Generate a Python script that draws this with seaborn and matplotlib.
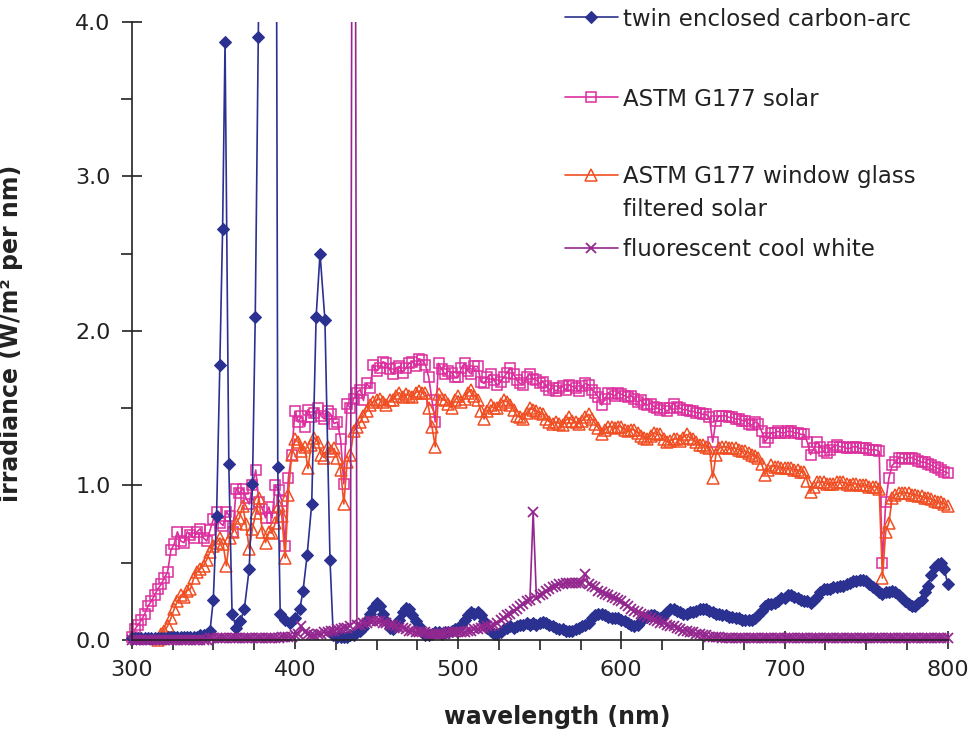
import numpy as np
import pandas as pd
import matplotlib
matplotlib.use("Agg")
import matplotlib.pyplot as plt
import seaborn as sns
from matplotlib.ticker import MultipleLocator, FormatStrFormatter

# ---------------- data ----------------
# twin enclosed carbon-arc: UV part (irregular wavelengths) + visible part every 2 nm
arc_wl_uv = [300, 302, 304, 306, 308, 310, 312, 314, 316, 318, 320, 322, 324, 326, 328, 330,
             332, 334, 336, 338, 340, 342, 344, 346, 348, 350, 352, 354, 355.7, 357.2, 359.5,
             361.5, 364, 366.5, 369, 372, 374, 375.7, 377.5, 379.5, 384, 388.5, 389.5, 391,
             394, 397, 400, 403, 405, 407.5, 410.3, 413, 415.4, 418.4, 421.5, 423.5, 426, 428,
             430, 432, 434, 436, 438]
arc_irr_uv = [0.01, 0.01, 0.01, 0.01, 0.01, 0.01, 0.01, 0.01, 0.01, 0.01, 0.01, 0.02, 0.02, 0.02, 0.02, 0.02,
              0.02, 0.02, 0.02, 0.02, 0.02, 0.03, 0.03, 0.04, 0.06, 0.26, 0.80, 1.78, 2.66, 3.87, 1.14,
              0.17, 0.08, 0.12, 0.20, 0.46, 1.01, 2.09, 3.90, 5.5, 6.0, 5.5, 1.12, 0.17,
              0.13, 0.11, 0.14, 0.20, 0.32, 0.55, 0.88, 2.09, 2.50, 2.07, 0.52, 0.03, 0.02, 0.02,
              0.02, 0.02, 0.03, 0.03, 0.05]
arc_wl_vis = list(range(440, 801, 2))
arc_irr_vis = [0.06, 0.08, 0.13, 0.17, 0.21, 0.24, 0.22, 0.17, 0.12, 0.08,
               0.07, 0.10, 0.13, 0.18, 0.21, 0.20, 0.16, 0.12, 0.09, 0.05,
               0.03, 0.03, 0.04, 0.05, 0.05, 0.04, 0.05, 0.05, 0.06, 0.07,
               0.08, 0.10, 0.13, 0.16, 0.18, 0.17, 0.18, 0.16, 0.12, 0.08,
               0.06, 0.04, 0.04, 0.05, 0.07, 0.08, 0.09, 0.08, 0.09, 0.10,
               0.10, 0.11, 0.10, 0.11, 0.10, 0.11, 0.115, 0.11, 0.10, 0.09,
               0.08, 0.07, 0.07, 0.06, 0.06, 0.06, 0.07, 0.08, 0.09, 0.10,
               0.11, 0.14, 0.16, 0.17, 0.17, 0.16, 0.15, 0.14, 0.14, 0.14,
               0.13, 0.12, 0.11, 0.10, 0.09, 0.10, 0.12, 0.14, 0.15, 0.16,
               0.16, 0.15, 0.14, 0.16, 0.18, 0.20, 0.20, 0.19, 0.18, 0.17,
               0.17, 0.18, 0.18, 0.19, 0.20, 0.20, 0.20, 0.19, 0.18, 0.17,
               0.17, 0.16, 0.16, 0.15, 0.15, 0.14, 0.14, 0.13, 0.13, 0.13,
               0.13, 0.14, 0.16, 0.19, 0.22, 0.23, 0.23, 0.24, 0.25, 0.27,
               0.27, 0.29, 0.29, 0.28, 0.27, 0.26, 0.25, 0.25, 0.24, 0.26,
               0.28, 0.31, 0.33, 0.33, 0.33, 0.34, 0.34, 0.35, 0.35, 0.36,
               0.37, 0.38, 0.38, 0.39, 0.39, 0.38, 0.36, 0.34, 0.33, 0.31,
               0.30, 0.31, 0.31, 0.32, 0.31, 0.29, 0.27, 0.25, 0.23, 0.22,
               0.22, 0.24, 0.26, 0.31, 0.35, 0.42, 0.47, 0.49, 0.50, 0.46, 0.36]

# ASTM G177 solar (every 2 nm)
solar_wl_uv = list(range(300, 440, 2))
solar_irr_uv = [0.02, 0.07, 0.10, 0.13, 0.17, 0.22, 0.25, 0.29, 0.33, 0.36,
                0.40, 0.44, 0.58, 0.62, 0.70, 0.64, 0.63, 0.70, 0.68, 0.66,
                0.70, 0.72, 0.66, 0.64, 0.71, 0.78, 0.83, 0.76, 0.74, 0.83,
                0.80, 0.70, 0.98, 0.95, 0.98, 0.92, 0.88, 1.00, 1.10, 0.89,
                0.85, 0.79, 0.86, 0.79, 1.00, 0.97, 0.90, 0.61, 1.05, 1.20,
                1.48, 1.41, 1.45, 1.38, 1.49, 1.44, 1.47, 1.50, 1.45, 1.43,
                1.48, 1.46, 1.40, 1.41, 1.30, 1.01, 1.53, 1.50, 1.56, 1.60]
solar_wl_vis = list(range(440, 801, 2))
solar_irr_vis = [1.62, 1.55, 1.66, 1.63, 1.78, 1.74, 1.76, 1.80, 1.79, 1.75,
                 1.72, 1.76, 1.77, 1.73, 1.76, 1.79, 1.80, 1.77, 1.82, 1.81,
                 1.78, 1.70, 1.55, 1.41, 1.79, 1.75, 1.72, 1.74, 1.73, 1.70,
                 1.70, 1.76, 1.79, 1.74, 1.72, 1.77, 1.77, 1.67, 1.66, 1.70,
                 1.72, 1.68, 1.65, 1.67, 1.70, 1.73, 1.76, 1.72, 1.68, 1.66,
                 1.65, 1.70, 1.72, 1.69, 1.68, 1.66, 1.67, 1.64, 1.62, 1.63,
                 1.61, 1.63, 1.64, 1.62, 1.65, 1.64, 1.63, 1.61, 1.64, 1.66,
                 1.65, 1.62, 1.60, 1.57, 1.52, 1.56, 1.60, 1.59, 1.58, 1.60,
                 1.59, 1.58, 1.57, 1.58, 1.56, 1.54, 1.55, 1.53, 1.52, 1.53,
                 1.51, 1.50, 1.49, 1.50, 1.48, 1.50, 1.53, 1.51, 1.50, 1.49,
                 1.49, 1.48, 1.48, 1.47, 1.47, 1.46, 1.46, 1.44, 1.28, 1.42,
                 1.45, 1.45, 1.45, 1.44, 1.44, 1.43, 1.43, 1.42, 1.42, 1.40,
                 1.39, 1.41, 1.40, 1.35, 1.28, 1.31, 1.34, 1.34, 1.35, 1.34,
                 1.34, 1.35, 1.35, 1.34, 1.34, 1.33, 1.33, 1.28, 1.20, 1.24,
                 1.28, 1.25, 1.22, 1.21, 1.23, 1.25, 1.26, 1.25, 1.25, 1.24,
                 1.24, 1.25, 1.25, 1.24, 1.24, 1.24, 1.23, 1.23, 1.23, 1.22,
                 0.50, 0.89, 1.05, 1.13, 1.15, 1.18, 1.18, 1.17, 1.18, 1.18,
                 1.17, 1.16, 1.15, 1.15, 1.14, 1.13, 1.12, 1.11, 1.10, 1.09, 1.08]

# ASTM G177 window glass filtered solar (every 2 nm)
glass_wl_uv = list(range(316, 440, 2))
glass_irr_uv = [0.00, 0.04, 0.06, 0.09, 0.14, 0.20, 0.25, 0.29, 0.28, 0.32,
                0.33, 0.40, 0.44, 0.46, 0.48, 0.52, 0.57, 0.61, 0.63, 0.66,
                0.62, 0.48, 0.66, 0.70, 0.76, 0.79, 0.87, 0.75, 0.59, 0.72,
                0.82, 0.92, 0.70, 0.63, 0.70, 0.69, 0.76, 0.87, 0.80, 0.53,
                0.94, 1.20, 1.30, 1.28, 1.22, 1.25, 1.11, 1.26, 1.31, 1.28,
                1.20, 1.18, 1.25, 1.22, 1.24, 1.18, 1.10, 0.88, 1.15, 1.20,
                1.35, 1.38]
glass_wl_vis = list(range(440, 801, 2))
glass_irr_vis = [1.41, 1.45, 1.48, 1.52, 1.54, 1.55, 1.56, 1.54, 1.52, 1.55,
                 1.55, 1.58, 1.60, 1.57, 1.59, 1.58, 1.57, 1.60, 1.61, 1.60,
                 1.60, 1.50, 1.38, 1.25, 1.59, 1.56, 1.55, 1.53, 1.50, 1.55,
                 1.58, 1.54, 1.56, 1.60, 1.62, 1.58, 1.55, 1.48, 1.43, 1.48,
                 1.52, 1.50, 1.50, 1.53, 1.55, 1.54, 1.52, 1.49, 1.45, 1.44,
                 1.43, 1.47, 1.50, 1.49, 1.48, 1.47, 1.46, 1.43, 1.41, 1.40,
                 1.41, 1.40, 1.39, 1.42, 1.44, 1.42, 1.41, 1.40, 1.42, 1.44,
                 1.46, 1.43, 1.40, 1.37, 1.33, 1.36, 1.38, 1.38, 1.37, 1.38,
                 1.38, 1.36, 1.35, 1.36, 1.36, 1.34, 1.32, 1.31, 1.30, 1.32,
                 1.34, 1.33, 1.33, 1.30, 1.28, 1.29, 1.30, 1.30, 1.29, 1.31,
                 1.33, 1.31, 1.30, 1.28, 1.26, 1.26, 1.25, 1.24, 1.05, 1.20,
                 1.24, 1.25, 1.25, 1.24, 1.24, 1.24, 1.23, 1.22, 1.22, 1.21,
                 1.20, 1.19, 1.18, 1.14, 1.07, 1.10, 1.13, 1.12, 1.12, 1.11,
                 1.11, 1.11, 1.11, 1.10, 1.10, 1.09, 1.09, 1.03, 0.96, 0.99,
                 1.02, 1.02, 1.02, 1.01, 1.01, 1.01, 1.02, 1.02, 1.02, 1.01,
                 1.00, 1.01, 1.01, 1.00, 1.00, 1.00, 0.99, 0.99, 0.99, 0.98,
                 0.40, 0.70, 0.76, 0.92, 0.94, 0.95, 0.95, 0.95, 0.95, 0.94,
                 0.94, 0.93, 0.93, 0.92, 0.92, 0.91, 0.90, 0.89, 0.89, 0.88, 0.87]

# fluorescent cool white (every 2 nm, 300-800)
fluo_wl = list(range(300, 801, 2))
fluo_irr = [0.00, 0.00, 0.00, 0.00, 0.00, 0.00, 0.00, 0.00, 0.00, 0.00,
            0.00, 0.00, 0.00, 0.00, 0.00, 0.00, 0.00, 0.00, 0.00, 0.00,
            0.00, 0.00, 0.00, 0.00, 0.01, 0.01, 0.01, 0.01, 0.01, 0.01,
            0.01, 0.01, 0.01, 0.01, 0.01, 0.01, 0.01, 0.01, 0.01, 0.01,
            0.01, 0.01, 0.01, 0.01, 0.01, 0.01, 0.02, 0.02, 0.02, 0.02,
            0.03, 0.04, 0.09, 0.05, 0.04, 0.03, 0.03, 0.04, 0.04, 0.05,
            0.05, 0.06, 0.06, 0.07, 0.07, 0.08, 0.08, 0.09, 10.0, 0.10,
            0.10, 0.11, 0.11, 0.12, 0.12, 0.12, 0.12, 0.11, 0.11, 0.10,
            0.10, 0.09, 0.08, 0.08, 0.07, 0.06, 0.06, 0.05, 0.05, 0.05,
            0.05, 0.04, 0.04, 0.04, 0.04, 0.04, 0.04, 0.05, 0.05, 0.05,
            0.05, 0.05, 0.05, 0.06, 0.06, 0.07, 0.07, 0.08, 0.08, 0.09,
            0.09, 0.10, 0.11, 0.13, 0.14, 0.16, 0.17, 0.19, 0.20, 0.22,
            0.23, 0.25, 0.26, 0.83, 0.27, 0.29, 0.30, 0.32, 0.33, 0.34,
            0.35, 0.36, 0.36, 0.37, 0.37, 0.37, 0.37, 0.37, 0.37, 0.43,
            0.36, 0.35, 0.34, 0.32, 0.31, 0.30, 0.29, 0.28, 0.27, 0.26,
            0.25, 0.23, 0.22, 0.20, 0.19, 0.18, 0.17, 0.16, 0.15, 0.14,
            0.13, 0.12, 0.11, 0.11, 0.10, 0.09, 0.09, 0.08, 0.07, 0.06,
            0.06, 0.05, 0.05, 0.04, 0.04, 0.03, 0.03, 0.02, 0.02, 0.02,
            0.02, 0.01, 0.01, 0.01, 0.01, 0.01, 0.01, 0.01, 0.01, 0.01,
            0.01, 0.01, 0.01, 0.01, 0.01, 0.01, 0.01, 0.01, 0.01, 0.01,
            0.01, 0.01, 0.01, 0.01, 0.01, 0.01, 0.01, 0.01, 0.01, 0.01,
            0.01, 0.01, 0.01, 0.01, 0.01, 0.01, 0.01, 0.01, 0.01, 0.01,
            0.01, 0.01, 0.01, 0.01, 0.01, 0.01, 0.01, 0.01, 0.01, 0.01,
            0.01, 0.01, 0.01, 0.01, 0.01, 0.01, 0.01, 0.01, 0.01, 0.01,
            0.01, 0.01, 0.01, 0.01, 0.01, 0.01, 0.01, 0.01, 0.01, 0.01,
            0.01]

series_labels = ["twin enclosed carbon-arc", "ASTM G177 solar",
                 "ASTM G177 window glass", "fluorescent cool white"]
label_extra = "filtered solar"
x_label = "wavelength (nm)"
y_label = "irradiance (W/m² per nm)"
x_ticks = [300, 400, 500, 600, 700, 800]
y_ticks = [0.0, 1.0, 2.0, 3.0, 4.0]

# ---------------- style ----------------
sns.set_style("white")
plt.rcParams["font.family"] = ["DejaVu Sans"]

C_ARC = "#2b3190"
C_SOLAR = "#dc2e9e"
C_GLASS = "#f04e23"
C_FLUO = "#93278f"
C_TXT = "#222222"

W, H = 972, 745
fig = plt.figure(figsize=(W / 100, H / 100), dpi=100)

# axes placement: 300 nm at px 131.7, 800 nm at px 947.7 ; 0 at px 640, 4.0 at px 21.7
xl, xr = 294.0, 806.0
pxnm = (947.7 - 131.7) / 500.0
ax_left = 131.7 - (300 - xl) * pxnm
ax_right = 947.7 + (xr - 800) * pxnm
yb = -0.07
pxu = (640 - 21.7) / 4.0
ax_bottom_px = 640 - yb * pxu
ax_top_px = 21.7
ax = fig.add_axes([ax_left / W, 1 - ax_bottom_px / H,
                   (ax_right - ax_left) / W, (ax_bottom_px - ax_top_px) / H])

solar_df = pd.DataFrame({"wl": solar_wl_uv + solar_wl_vis, "irr": solar_irr_uv + solar_irr_vis})
glass_df = pd.DataFrame({"wl": glass_wl_uv + glass_wl_vis, "irr": glass_irr_uv + glass_irr_vis})
arc_df = pd.DataFrame({"wl": arc_wl_uv + arc_wl_vis, "irr": arc_irr_uv + arc_irr_vis})
fluo_df = pd.DataFrame({"wl": fluo_wl, "irr": fluo_irr})

lw = 1.2
sns.lineplot(data=solar_df, x="wl", y="irr", ax=ax, color=C_SOLAR, lw=lw, marker="s",
             markersize=7, markerfacecolor="none", markeredgecolor=C_SOLAR,
             markeredgewidth=1.1, estimator=None, sort=False)
sns.lineplot(data=glass_df, x="wl", y="irr", ax=ax, color=C_GLASS, lw=lw, marker="^",
             markersize=8, markerfacecolor="none", markeredgecolor=C_GLASS,
             markeredgewidth=1.1, estimator=None, sort=False)
sns.lineplot(data=arc_df, x="wl", y="irr", ax=ax, color=C_ARC, lw=lw, marker="D",
             markersize=6.5, markerfacecolor=C_ARC, markeredgecolor=C_ARC,
             estimator=None, sort=False)
sns.lineplot(data=fluo_df, x="wl", y="irr", ax=ax, color=C_FLUO, lw=lw, marker="x",
             markersize=7.5, markeredgecolor=C_FLUO, markeredgewidth=1.3,
             estimator=None, sort=False)

ax.set_xlim(xl, xr)
ax.set_ylim(yb, 4.0)

for s in ["top", "right"]:
    ax.spines[s].set_visible(False)
for s in ["left", "bottom"]:
    ax.spines[s].set_color(C_TXT)
    ax.spines[s].set_linewidth(1.2)
ax.spines["left"].set_position(("data", 300))
ax.spines["bottom"].set_position(("data", 0))
ax.spines["left"].set_bounds(0, 4.0)
ax.spines["bottom"].set_bounds(300, 800)

ax.set_xticks(x_ticks)
ax.set_yticks(y_ticks)
ax.xaxis.set_minor_locator(MultipleLocator(25))
ax.yaxis.set_minor_locator(MultipleLocator(0.5))
ax.yaxis.set_major_formatter(FormatStrFormatter("%.1f"))
ax.tick_params(axis="both", which="major", direction="inout", width=1.2,
               color=C_TXT, labelsize=16, labelcolor=C_TXT)
ax.tick_params(axis="y", which="major", length=14.5, pad=8)
ax.tick_params(axis="x", which="major", length=13, pad=8)
ax.tick_params(axis="y", which="minor", direction="out", length=8, width=1.2, color=C_TXT)
ax.tick_params(axis="x", which="minor", direction="out", length=7, width=1.2, color=C_TXT)
ax.tick_params(left=True, bottom=True, which="both")

ax.set_xlabel(x_label, fontsize=17, fontweight="bold", color=C_TXT)
ax.set_ylabel(y_label, fontsize=17, fontweight="bold", color=C_TXT)
ax.xaxis.set_label_coords((557 - ax_left) / (ax_right - ax_left),
                          (ax_bottom_px - 705) / (ax_bottom_px - ax_top_px))
ax.yaxis.set_label_coords((23 - ax_left) / (ax_right - ax_left),
                          (ax_bottom_px - 333) / (ax_bottom_px - ax_top_px))

# legend: one entry per row, placed like the reference
lines = ax.get_lines()
handle_order = [lines[2], lines[0], lines[1], lines[3]]
rows_px = [19, 99, 177, 250]
for h, lab, ry in zip(handle_order, series_labels, rows_px):
    fig.legend(handles=[h], labels=[lab], loc="center left",
               bbox_to_anchor=(565 / W, 1 - ry / H), frameon=False,
               borderpad=0, borderaxespad=0, handlelength=2.3,
               handletextpad=0.22, fontsize=16.5, labelcolor=C_TXT)
fig.text(623 / W, 1 - 209 / H, label_extra, fontsize=16.5, color=C_TXT,
         ha="left", va="center")

fig.savefig("out.png", dpi=100, facecolor="white")
